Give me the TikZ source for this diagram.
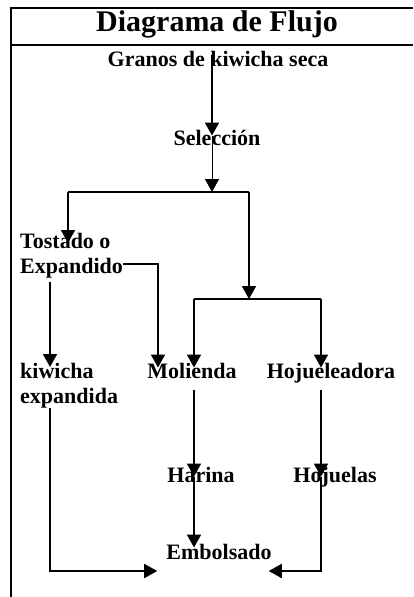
\documentclass[tikz,border=0pt]{standalone}
\usepackage{fontspec}
\setmainfont{Liberation Serif}
\usetikzlibrary{arrows.meta}

\tikzset{
  paso/.style={font=\fontsize{22}{25}\selectfont\bfseries, inner sep=0pt, anchor=base},
  flecha/.style={black, line width=1.8pt, -{Triangle[width=14pt,length=13pt]}},
  linea/.style={black, line width=1.8pt},
}

\begin{document}
\begin{tikzpicture}[x=1pt,y=-1pt]
\useasboundingbox (0,0) rectangle (413,597);
\draw[black, line width=2pt] (413,8) -- (11,8) -- (11,597);
\draw[black, line width=1.6pt] (11,45) -- (413,45);
\node[paso, font=\fontsize{30}{32}\selectfont\bfseries] (titulo) at (217,31) {Diagrama de Flujo};

\node[paso] (granos) at (218,66) {Granos de kiwicha seca};
\node[paso] (seleccion) at (217,145) {Selección};
\node[paso, anchor=north west, align=left] (tostado) at (20,233) {Tostado o\\Expandido};
\node[paso, anchor=north west, align=left] (kiwicha) at (20,363) {kiwicha\\expandida};
\node[paso] (molienda) at (192,378) {Molienda};
\node[paso] (hojueleadora) at (331,378) {Hojueleadora};
\node[paso] (harina) at (201,482) {Harina};
\node[paso] (hojuelas) at (335,482) {Hojuelas};
\node[paso] (embolsado) at (219,559) {Embolsado};

% puntos de quiebre
\coordinate (split) at (212,192);
\coordinate (splitL) at (68,192);
\coordinate (splitR) at (249,192);
\coordinate (join) at (249,299);
\coordinate (joinL) at (194,299);
\coordinate (joinR) at (321,299);
\coordinate (expR) at (158,264);
\coordinate (colK) at (50,282);
\coordinate (bajoL) at (50,571);
\coordinate (bajoR) at (321,571);

\draw[flecha] ([yshift=-4pt]granos.north -| split) -- ([yshift=-6pt]seleccion.north -| split);
\draw[flecha, line width=0.8pt] ([yshift=-6pt]seleccion.north -| split) -- (split);
\draw[linea] (splitL) -- (splitR);
\draw[flecha] (splitL) -- ([yshift=-10pt]tostado.north -| splitL);
\draw[flecha] (splitR) -- (join);
\draw[linea] (joinL) -- (joinR);
\draw[flecha] (joinL) -- ([yshift=-5pt]molienda.north -| joinL);
\draw[flecha] (joinR) -- ([yshift=-5pt]hojueleadora.north -| joinR);

\draw[flecha] (tostado.east |- expR) -- (expR) -- ([yshift=-5pt]molienda.north -| expR);
\draw[flecha] ([yshift=-4pt]tostado.south -| colK) -- ([yshift=-4pt]kiwicha.north -| colK);

\draw[flecha] ([yshift=-12pt]molienda.south -| joinL) -- ([yshift=-10pt]harina.north -| joinL);
\draw[flecha] ([yshift=-10pt]harina.north -| joinL) -- ([yshift=-4pt]embolsado.north -| joinL);
\draw[flecha] ([yshift=-7pt]hojueleadora.south -| joinR) -- ([yshift=-10pt]hojuelas.north -| joinR);
\draw[flecha] ([yshift=-10pt]hojuelas.north -| joinR) -- (bajoR) -- ([xshift=-3pt]embolsado.east |- bajoR);
\draw[flecha] (kiwicha.south -| colK) -- (bajoL) -- ([xshift=-9pt]embolsado.west |- bajoL);

\end{tikzpicture}
\end{document}
